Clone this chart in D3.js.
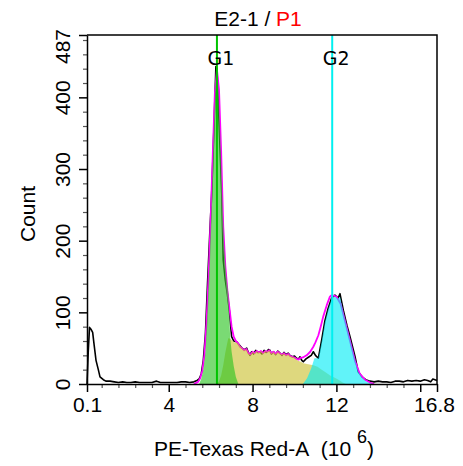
<!DOCTYPE html>
<html>
<head>
<meta charset="utf-8">
<script src="https://cdn.jsdelivr.net/npm/d3@7"></script>
<style>
  html, body { margin: 0; padding: 0; background: #fff; }
  svg { display: block; }
</style>
</head>
<body>
<svg id="chart" width="463" height="466"></svg>
<script>
// ---- data ----
const xTickValues = [0.1, 4, 8, 12, 16.8];
const xTickLabels = ["0.1", "4", "8", "12", "16.8"];
const yTickValues = [0, 100, 200, 300, 400, 487];
const gateNames = ["G1", "G2"];
const gatePositions = [6.3, 11.8];

// raw histogram (black)
const rawHist = [[0.1,0],[0.16,45],[0.22,79],[0.3,76],[0.37,72],[0.43,57],[0.53,33],[0.64,20],[0.72,10],[0.88,6],[1.0,4],[1.2,4],[1.4,3],[1.6,2],[1.8,3],[2.0,2],[2.2,2],[2.4,3],[2.6,2],[2.8,2],[3.0,2],[3.2,2],[3.42,4],[3.6,2],[3.8,2],[4.0,2],[4.2,2],[4.4,2],[4.6,3],[4.8,3],[5.0,2],[5.2,3],[5.35,5],[5.45,7],[5.55,14],[5.65,33],[5.75,70],[5.85,140],[5.95,205],[6.05,266],[6.16,359],[6.25,443],[6.3,440],[6.41,359],[6.53,266],[6.6,173],[6.7,145],[6.8,125],[6.89,103],[7.0,66],[7.1,60],[7.24,59],[7.35,55],[7.5,50],[7.6,48],[7.72,50],[7.8,44],[7.88,40],[7.95,45],[8.05,42],[8.15,47],[8.25,44],[8.35,45],[8.45,42],[8.55,47],[8.65,44],[8.75,48],[8.83,47],[8.9,42],[9.0,45],[9.1,41],[9.2,46],[9.31,43],[9.4,40],[9.5,44],[9.6,41],[9.7,43],[9.78,40],[9.9,38],[10.0,39],[10.1,36],[10.2,35],[10.26,38],[10.35,33],[10.42,31],[10.55,35],[10.7,38],[10.8,40],[10.9,45],[11.0,40],[11.14,36],[11.3,62],[11.45,88],[11.6,105],[11.77,120],[11.93,124],[12.08,120],[12.17,126],[12.33,103],[12.5,82],[12.65,66],[12.89,38],[13.04,17],[13.22,10],[13.4,6],[13.6,4],[13.8,3],[14.0,4],[14.2,3],[14.4,3],[14.6,2],[14.8,4],[15.0,4],[15.2,3],[15.4,5],[15.6,4],[15.8,5],[16.0,4],[16.2,6],[16.35,5],[16.5,3],[16.6,7],[16.7,6],[16.8,5]];

// model fit (magenta)
const fitCurve = [[5.2,0],[5.4,3],[5.5,8],[5.6,18],[5.7,40],[5.8,85],[5.9,150],[6.0,230],[6.1,320],[6.2,405],[6.3,439],[6.4,410],[6.5,325],[6.6,220],[6.7,165],[6.8,130],[6.9,105],[7.0,80],[7.1,66],[7.2,60],[7.3,57],[7.4,52],[7.5,50],[7.6,47],[7.7,49],[7.8,43],[7.9,41],[8.0,45],[8.1,43],[8.2,46],[8.3,44],[8.4,46],[8.5,43],[8.6,46],[8.7,45],[8.8,47],[8.9,43],[9.0,45],[9.1,42],[9.2,45],[9.3,43],[9.4,41],[9.5,43],[9.6,40],[9.7,42],[9.8,39],[9.9,38],[10.0,37],[10.1,35],[10.2,34],[10.26,36],[10.4,37],[10.58,40],[10.75,45],[10.9,52],[11.0,58],[11.14,68],[11.25,80],[11.37,94],[11.54,110],[11.69,122],[11.77,124],[11.9,123],[12.0,122],[12.2,112],[12.41,88],[12.65,60],[12.89,32],[13.12,14],[13.36,6],[13.6,2],[13.8,0]];

// S-phase component (yellow)
const sPhase = [[6.3,0],[6.4,4],[6.5,12],[6.6,26],[6.7,44],[6.84,64],[6.95,63],[7.05,60],[7.15,58],[7.25,58],[7.35,55],[7.5,50],[7.6,47],[7.7,49],[7.8,43],[7.9,41],[8.0,45],[8.1,43],[8.2,46],[8.3,44],[8.4,46],[8.5,43],[8.6,46],[8.7,45],[8.8,47],[8.9,43],[9.0,45],[9.1,42],[9.2,45],[9.3,43],[9.4,41],[9.5,43],[9.6,40],[9.7,42],[9.8,39],[9.9,38],[10.0,37],[10.1,34],[10.2,32],[10.3,31],[10.42,29],[10.6,28],[10.9,26],[11.1,24],[11.3,20],[11.5,16],[11.7,12],[11.9,9],[12.1,6],[12.3,2],[12.45,0]];

// G1 component (green)
const g1Peak = [[5.45,0],[5.55,7],[5.65,20],[5.75,45],[5.85,105],[5.95,175],[6.05,260],[6.15,355],[6.25,432],[6.3,440],[6.35,425],[6.45,355],[6.55,265],[6.65,190],[6.75,150],[6.84,128],[6.93,66],[7.0,45],[7.1,25],[7.2,10],[7.32,0]];

// G2 component (cyan)
const g2Peak = [[10.4,0],[10.6,8],[10.8,22],[10.95,36],[11.14,36],[11.3,60],[11.45,86],[11.6,104],[11.77,119],[11.93,122],[12.08,119],[12.17,122],[12.33,100],[12.5,80],[12.65,62],[12.89,34],[13.04,17],[13.22,9],[13.4,4],[13.6,1],[13.75,0]];

// ---- drawing ----
const FONT = "Liberation Sans, Arial, sans-serif";
const FS = 21;
const svg = d3.select("#chart");
const L = 87, R = 437, T = 35, B = 384;
const x = d3.scaleLinear().domain([0.1, 16.8]).range([L, R]);
const y = d3.scaleLinear().domain([0, 487]).range([B, T]);

const line = d3.line().x(d => x(d[0])).y(d => y(d[1]));
const area = d3.area().x(d => x(d[0])).y0(y(0)).y1(d => y(d[1]));

const plot = svg.append("g");

// raw and fit lines first
plot.append("path").datum(rawHist).attr("d", line)
  .attr("fill", "none").attr("stroke", "#000").attr("stroke-width", 1.6).attr("stroke-linejoin", "round");
plot.append("path").datum(fitCurve).attr("d", line)
  .attr("fill", "none").attr("stroke", "#ff00ff").attr("stroke-width", 1.8).attr("stroke-linejoin", "round");

// component fills (semi-transparent on top)
plot.append("path").datum(sPhase).attr("d", area)
  .attr("fill", "rgb(200,190,40)").attr("fill-opacity", 0.6);
plot.append("path").datum(g1Peak).attr("d", area)
  .attr("fill", "rgb(40,195,30)").attr("fill-opacity", 0.62);
plot.append("path").datum(g2Peak).attr("d", area)
  .attr("fill", "rgb(0,235,245)").attr("fill-opacity", 0.62);

// gate lines
const gateColors = ["#00c400", "#00f0f0"];
gatePositions.forEach((g, i) => {
  plot.append("line")
    .attr("x1", x(g)).attr("x2", x(g)).attr("y1", T).attr("y2", B)
    .attr("stroke", gateColors[i]).attr("stroke-width", 2);
  plot.append("text")
    .attr("x", x(g) + 4).attr("y", 65)
    .attr("text-anchor", "middle")
    .attr("font-family", "DejaVu Sans")
    .attr("font-size", 19)
    .attr("fill", "#000")
    .text(gateNames[i]);
});

// frame (top and right)
svg.append("path")
  .attr("d", `M${L},${T}H${R}V${B}`)
  .attr("fill", "none").attr("stroke", "#000").attr("stroke-width", 1.5);

// x axis
const xMinor = d3.range(0.8, 16.8, 0.8).filter(v => Math.abs(v - 4) > 0.01 && Math.abs(v - 8) > 0.01 && Math.abs(v - 12) > 0.01 && Math.abs(v - 16) > 0.01);
const xAxisMinor = d3.axisBottom(x).tickValues(xMinor).tickSize(4).tickFormat("");
svg.append("g").attr("transform", `translate(0,${B})`).call(xAxisMinor)
  .call(g => g.select(".domain").remove())
  .call(g => g.selectAll("line").attr("stroke", "#555").attr("stroke-width", 1.2));
const xAxis = d3.axisBottom(x).tickValues(xTickValues.concat([16])).tickSize(8).tickSizeOuter(0)
  .tickFormat(d => { const i = xTickValues.indexOf(d); return i >= 0 ? xTickLabels[i] : ""; });
const gx = svg.append("g").attr("transform", `translate(0,${B})`).call(xAxis);
gx.select(".domain").attr("stroke", "#000").attr("stroke-width", 1.5);
gx.selectAll("line").attr("stroke", "#000").attr("stroke-width", 1.5);
gx.selectAll("text")
  .attr("font-family", FONT)
  .attr("font-size", FS).attr("fill", "#000").attr("dy", null).attr("y", 28);
gx.selectAll(".tick").filter(d => d === 16.8).select("text").attr("dx", -3);

// y axis
const yMinor = d3.range(20, 487, 20).filter(v => v % 100 !== 0);
const yAxisMinor = d3.axisLeft(y).tickValues(yMinor).tickSize(4).tickFormat("");
svg.append("g").attr("transform", `translate(${L},0)`).call(yAxisMinor)
  .call(g => g.select(".domain").remove())
  .call(g => g.selectAll("line").attr("stroke", "#555").attr("stroke-width", 1.2));
const yAxis = d3.axisLeft(y).tickValues(yTickValues).tickSize(8).tickSizeOuter(0).tickFormat(d3.format("d"));
const gy = svg.append("g").attr("transform", `translate(${L},0)`).call(yAxis);
gy.select(".domain").attr("stroke", "#000").attr("stroke-width", 1.5);
gy.selectAll("line").attr("stroke", "#000").attr("stroke-width", 1.5);
gy.selectAll("text")
  .attr("font-family", FONT)
  .attr("font-size", FS).attr("fill", "#000")
  .attr("x", null).attr("dy", null)
  .attr("text-anchor", "middle")
  .attr("transform", d => `translate(-17,${d === 487 ? 11 : 0}) rotate(-90)`);

// title
const title = svg.append("text")
  .attr("x", 258).attr("y", 26).attr("text-anchor", "middle")
  .attr("font-family", FONT).attr("font-size", FS);
title.append("tspan").attr("fill", "#000").text("E2-1 / ");
title.append("tspan").attr("fill", "#ff0000").text("P1");

// y label
svg.append("text")
  .attr("transform", "translate(35,214) rotate(-90)")
  .attr("text-anchor", "middle")
  .attr("font-family", FONT).attr("font-size", FS)
  .attr("fill", "#000").text("Count");

// x label
const xl = svg.append("text")
  .attr("x", 264).attr("y", 456).attr("text-anchor", "middle")
  .attr("font-family", FONT).attr("font-size", FS)
  .attr("fill", "#000");
xl.append("tspan").text("PE-Texas Red-A\u00a0\u00a0(10\u00a0");
xl.append("tspan").attr("dy", -13).attr("font-size", 18).text("6");
xl.append("tspan").attr("dy", 13).text(")");
</script>
</body>
</html>
